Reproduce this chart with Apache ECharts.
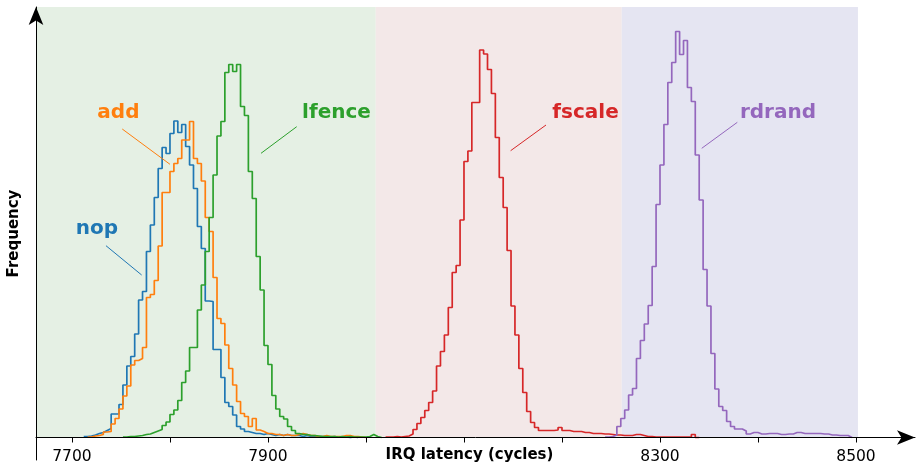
<!DOCTYPE html>
<html>
<head>
<meta charset="utf-8">
<script src="https://cdn.jsdelivr.net/npm/echarts@6/dist/echarts.min.js"></script>
<style>
html,body{margin:0;padding:0;background:#fff;}
#chart{width:917px;height:465px;}
</style>
</head>
<body>
<div id="chart"></div>
<script>
// ---- data (histogram bin counts, 4-cycle bins) ----
const binWidth = 4;
const seriesNames = ['nop', 'add', 'lfence', 'fscale', 'rdrand'];
const seriesColors = ['#1f77b4', '#ff7f0e', '#2ca02c', '#d62728', '#9467bd'];

const nopStart = 7712;
const nopCounts = [1, 1.5, 2.5, 4, 5, 7, 9, 23.5, 23.5, 33, 52.5, 71.5, 81, 103.5, 137.5, 146, 186, 212.5, 240, 269,
  290, 284, 304, 316.5, 305, 313, 291, 272.5, 249, 211, 189, 136.5, 136, 88, 88, 60, 35, 31, 22.5, 11,
  8.5, 6, 5, 4, 4, 3, 4, 3, 2, 3, 2, 3, 2, 2, 2, 1, 2, 1, 1, 1, 1, 1, 0.5, 1, 0.5, 0.5, 0.5, 0, 0.5, 0];

const addStart = 7716;
const addCounts = [0.5, 1.5, 2, 3, 5.5, 6, 13.5, 19, 28.5, 41.5, 51.5, 72.5, 77, 79, 90, 140, 143, 157, 191.5, 245,
  245, 266, 274, 279, 297.5, 297.5, 316, 279, 274, 256.5, 220, 206, 160, 119, 114, 92.5, 69, 52.5, 36, 24,
  21, 11, 19, 7.5, 6, 4, 4, 3, 3, 2, 3, 2, 2, 3, 4, 3, 2, 2, 1, 1, 2, 1, 1, 1, 1, 2, 2, 1, 1, 0.5, 0];

const lfenceStart = 7752;
const lfenceCounts = [0.5, 1, 1, 1.5, 2, 3, 3.5, 5, 6.5, 8, 12, 15.5, 23, 27.5, 37, 55, 66.5, 90, 90, 127.5,
  152.5, 186, 220, 262.5, 301.5, 316, 365, 373, 366, 373, 331, 322, 266, 239, 181, 147.5, 92, 73, 42, 28.5,
  21, 18.5, 11, 7, 4, 3, 3, 2, 2, 1.5, 1, 1, 1, 1, 0.5, 1, 0.5, 1, 0.5, 0.5, 0.5, 0.5, 1, 3, 1, 0];

const fscaleStart = 8020;
const fscaleCounts = [0.5, 0.5, 1, 0.5, 1, 1.5, 3.5, 8, 14, 20, 27, 35, 46.5, 71.5, 86, 102.5, 130, 165, 172, 217.5,
  276, 286.5, 335, 335, 387.5, 383.5, 368, 344, 300, 260, 230, 187, 131.5, 102.5, 69, 45, 26, 15, 10, 7,
  7, 7, 7, 7.5, 10, 7, 7, 6, 6, 6, 5, 5, 4, 4, 4, 3.5, 3.5, 3, 2.5, 2.5, 2, 2, 2, 3, 3, 2, 1, 1,
  0.5, 0.5, 0.5, 0.5, 0.5, 0.5, 0.5, 0.5, 0.5, 0.5, 3, 0];

const rdrandStart = 8244;
const rdrandCounts = [0.5, 1, 2.5, 11, 19, 27.5, 42.5, 49, 79, 97, 113.5, 132, 171, 233, 272.5, 313, 355, 375, 406, 383,
  397, 350, 336, 282.5, 237.5, 168, 131.5, 84, 48.5, 31, 27, 16, 11, 8.5, 8.5, 6.5, 3.5, 5, 5, 3.5,
  3.5, 4, 4, 4, 3, 3, 3.5, 3.5, 5, 5, 4, 4, 4, 4, 4, 3.5, 3.5, 2.5, 2.5, 2, 2, 2, 0];

// axis ticks / labels (cycles)
const xTickValues = [7700, 7800, 7900, 8000, 8100, 8200, 8300, 8400, 8500];
const xLabelValues = [7700, 7900, 8300, 8500];
const xAxisName = 'IRQ latency (cycles)';
const yAxisName = 'Frequency';

// shaded regions [from, to] in cycles
const bandRanges = [[7663.3, 8010], [8010, 8261], [8261, 8502]];
const bandColors = ['#e5f0e4', '#f3e8e8', '#e5e5f2'];

// annotation label positions and leader lines (data coords: cycles, frequency)
const labelPos = [[7725.5, 208.5], [7747.4, 324.5], [7969.9, 324.5], [8224, 324.5], [8420.4, 324.5]];
const leaderFrom = [[7734.7, 191.8], [7751.3, 308.5], [7929.3, 310.8], [8183.7, 312.5], [8378.9, 315.2]];
const leaderTo = [[7771.1, 162.5], [7800, 273.2], [7892.9, 284.2], [8147.6, 286.8], [8342.6, 289.2]];

const X_MIN = 7663.3, X_MAX = 8560.2;
const Y_MIN = -22.5, Y_MAX = 430.5;

// ---- build ----
function histData(start, counts) {
  const d = counts.map((v, i) => [start + i * binWidth, v]);
  d.push([start + counts.length * binWidth, counts[counts.length - 1]]);
  return d;
}
const starts = [nopStart, addStart, lfenceStart, fscaleStart, rdrandStart];
const counts = [nopCounts, addCounts, lfenceCounts, fscaleCounts, rdrandCounts];

const FONT = 'DejaVu Sans';
const series = [{
  type: 'line', data: [], silent: true, z: 0,
  markArea: {
    silent: true,
    data: bandRanges.map((r, i) => [
      { xAxis: r[0], yAxis: 0, itemStyle: { color: bandColors[i], opacity: 1 } },
      { xAxis: r[1], yAxis: Y_MAX }
    ])
  }
}];
seriesNames.forEach((name, i) => {
  series.push({
    name: name,
    type: 'line',
    step: 'end',
    data: histData(starts[i], counts[i]),
    showSymbol: false,
    symbol: 'none',
    z: 3,
    lineStyle: { color: seriesColors[i], width: 1.7 },
    itemStyle: { color: seriesColors[i] },
    markLine: {
      silent: true, symbol: ['none', 'none'],
      label: { show: false },
      lineStyle: { color: seriesColors[i], width: 1, type: 'solid' },
      data: [[{ coord: leaderFrom[i] }, { coord: leaderTo[i] }]]
    },
    markPoint: {
      silent: true,
      symbol: 'circle', symbolSize: 0,
      label: {
        show: true, position: 'inside', formatter: name,
        color: seriesColors[i], fontFamily: FONT, fontWeight: 'bold', fontSize: 20
      },
      data: [{ coord: labelPos[i] }]
    }
  });
});

const chart = echarts.init(document.getElementById('chart'), null, { renderer: 'canvas' });
chart.setOption({
  animation: false,
  backgroundColor: '#ffffff',
  grid: { left: 36, right: 2, top: 7, bottom: 5, containLabel: false, outerBoundsMode: 'none' },
  xAxis: {
    type: 'value', min: X_MIN, max: X_MAX, z: 10,
    offset: Y_MIN,
    splitLine: { show: false },
    axisLine: {
      show: true, onZero: false,
      symbol: ['none', 'arrow'], symbolSize: [11, 18], symbolOffset: [0, 0],
      lineStyle: { color: '#000', width: 1 }
    },
    axisTick: { show: true, customValues: xTickValues, length: 5, lineStyle: { color: '#000', width: 1 } },
    axisLabel: { show: true, customValues: xLabelValues, formatter: v => String(v), color: '#000', fontFamily: FONT, fontSize: 15.5, margin: 11 },
    name: xAxisName, nameLocation: 'middle', nameGap: 10, nameMoveOverlap: false,
    nameTextStyle: { color: '#000', fontFamily: FONT, fontWeight: 'bold', fontSize: 15, padding: [0, 12, 0, 0], verticalAlign: 'top' }
  },
  yAxis: {
    type: 'value', min: Y_MIN, max: Y_MAX, z: 10,
    splitLine: { show: false },
    axisLabel: { show: false },
    axisTick: { show: false },
    axisLine: {
      show: true, onZero: false,
      symbol: ['none', 'arrow'], symbolSize: [11, 18], symbolOffset: [0, 0],
      lineStyle: { color: '#000', width: 1 }
    },
    name: yAxisName, nameLocation: 'middle', nameGap: 14, nameMoveOverlap: false,
    nameTextStyle: { color: '#000', fontFamily: FONT, fontWeight: 'bold', fontSize: 15 }
  },
  series: series
});
</script>
</body>
</html>
